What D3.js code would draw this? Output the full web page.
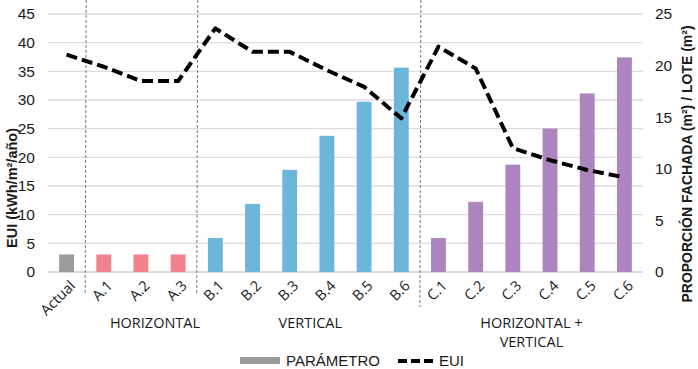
<!DOCTYPE html>
<html><head><meta charset="utf-8">
<script src="https://cdn.jsdelivr.net/npm/d3@7"></script>
<style>
html,body{margin:0;padding:0;background:#fff;}
svg{display:block;}
</style></head>
<body>
<script>
const categories = ["Actual","A.1","A.2","A.3","B.1","B.2","B.3","B.4","B.5","B.6","C.1","C.2","C.3","C.4","C.5","C.6"];
const groups =     ["base","A","A","A","B","B","B","B","B","B","C","C","C","C","C","C"];
const parametro = [1.7,1.7,1.7,1.7,3.3,6.6,9.9,13.2,16.5,19.8,3.3,6.8,10.4,13.9,17.3,20.8];
const eui =       [37.9,35.8,33.3,33.3,42.5,38.4,38.4,35.2,32.3,26.8,39.3,35.5,21.6,19.5,17.8,16.5];
const leftTicks = [0,5,10,15,20,25,30,35,40,45];
const rightTicks = [0,5,10,15,20,25];
const separatorsAfter = ["Actual","A.3","B.6"];
const groupLabels = [
  {lines:["HORIZONTAL"], from:"A.1", to:"A.3"},
  {lines:["VERTICAL"], from:"B.1", to:"B.6"},
  {lines:["HORIZONTAL +","VERTICAL"], from:"C.1", to:"C.6"}
];
const colors = {base:"#9a9b9b", A:"#f0838e", B:"#6cb6dc", C:"#ac85bf"};

const W = 698, H = 369;
const m = {l:48, r:55, t:14, b:97};
const svg = d3.select("body").append("svg").attr("width",W).attr("height",H);

const x = d3.scaleBand().domain(categories).range([m.l, W-m.r]).paddingInner(0.6).paddingOuter(0.3);
const yL = d3.scaleLinear().domain([0,45]).range([H-m.b, m.t]);
const yR = d3.scaleLinear().domain([0,25]).range([H-m.b, m.t]);

// gridlines
svg.append("g").selectAll("line").data(leftTicks).join("line")
  .attr("x1", m.l).attr("x2", W-m.r)
  .attr("y1", d=>yL(d)).attr("y2", d=>yL(d))
  .attr("stroke", d=> d===0 ? "#cfcfcf" : "#dcdcdc").attr("stroke-width", 1.3);

// left axis
const axL = svg.append("g").attr("transform",`translate(${m.l},0)`)
  .call(d3.axisLeft(yL).tickValues(leftTicks).tickSize(0).tickPadding(13));
axL.select(".domain").remove();
axL.selectAll("text").attr("font-family","Liberation Sans, Arial, sans-serif").attr("font-size",15.5).attr("fill","#1a1a1a");

// right axis
const axR = svg.append("g").attr("transform",`translate(${W-m.r},0)`)
  .call(d3.axisRight(yR).tickValues(rightTicks).tickSize(0).tickPadding(12));
axR.select(".domain").remove();
axR.selectAll("text").attr("font-family","Liberation Sans, Arial, sans-serif").attr("font-size",15.5).attr("fill","#1a1a1a");

// bars
svg.append("g").selectAll("rect").data(categories).join("rect")
  .attr("x", d=>x(d)).attr("width", x.bandwidth())
  .attr("y", (d,i)=>yR(parametro[i])).attr("height",(d,i)=>yR(0)-yR(parametro[i]))
  .attr("fill",(d,i)=>colors[groups[i]]);

// separators
const step = x.step();
svg.append("g").selectAll("line").data(separatorsAfter).join("line")
  .attr("x1", d=>x(d)+x.bandwidth()+ (step-x.bandwidth())/2 + 1)
  .attr("x2", d=>x(d)+x.bandwidth()+ (step-x.bandwidth())/2)
  .attr("y1", 0).attr("y2", (d,i)=> i===2 ? 307 : 295)
  .attr("stroke","#777").attr("stroke-width",1).attr("stroke-dasharray","3,2");

// EUI line
const line = d3.line().x((d,i)=>x(categories[i])+x.bandwidth()/2).y(d=>yL(d));
svg.append("path").datum(eui).attr("d",line)
  .attr("fill","none").attr("stroke","#000").attr("stroke-width",4)
  .attr("stroke-dasharray","11,5").attr("stroke-linejoin","round");

// x labels
svg.append("g").selectAll("text").data(categories).join("text")
  .attr("transform", d=>`translate(${x(d)+x.bandwidth()/2+6},${yL(0)+11}) rotate(-45)`)
  .attr("text-anchor","end").attr("dy","0.35em")
  .attr("font-family","Open Sans, sans-serif").attr("font-size",14.5).attr("fill","#1a1a1a")
  .text(d=>d);

// group labels
groupLabels.forEach((g,gi)=>{
  const cx = (x(g.from) + x(g.to) + x.bandwidth())/2 + (gi===0 ? 14 : (gi===1 ? 2 : 0));
  const t = svg.append("text").attr("text-anchor","middle")
    .attr("font-family","Open Sans, sans-serif").attr("font-size",14.5).attr("fill","#1a1a1a");
  g.lines.forEach((ln,li)=>{
    t.append("tspan").attr("x",cx).attr("y",328 + li*19).text(ln);
  });
});

// axis titles
svg.append("text").attr("transform","translate(17,188) rotate(-90)")
  .attr("text-anchor","middle").attr("font-family","Liberation Sans, Arial, sans-serif")
  .attr("font-size",14.5).attr("font-weight","bold").attr("fill","#1a1a1a")
  .text("EUI (kWh/m²/año)");
svg.append("text").attr("transform","translate(692,164) rotate(-90)")
  .attr("text-anchor","middle").attr("font-family","Liberation Sans, Arial, sans-serif")
  .attr("font-size",14).attr("font-weight","bold").attr("fill","#1a1a1a")
  .text("PROPORCIÓN FACHADA (m²) / LOTE (m²)");

// legend
const lg = svg.append("g");
lg.append("rect").attr("x",240).attr("y",357).attr("width",40).attr("height",7).attr("fill",colors.base);
lg.append("text").attr("x",286).attr("y",366).attr("font-family","Liberation Sans, Arial, sans-serif")
  .attr("font-size",15).attr("fill","#1a1a1a").text("PARÁMETRO");
lg.append("line").attr("x1",398).attr("x2",434).attr("y1",361).attr("y2",361)
  .attr("stroke","#000").attr("stroke-width",4).attr("stroke-dasharray","9,4");
lg.append("text").attr("x",439).attr("y",366).attr("font-family","Liberation Sans, Arial, sans-serif")
  .attr("font-size",15).attr("fill","#1a1a1a").text("EUI");
</script>
</body></html>
